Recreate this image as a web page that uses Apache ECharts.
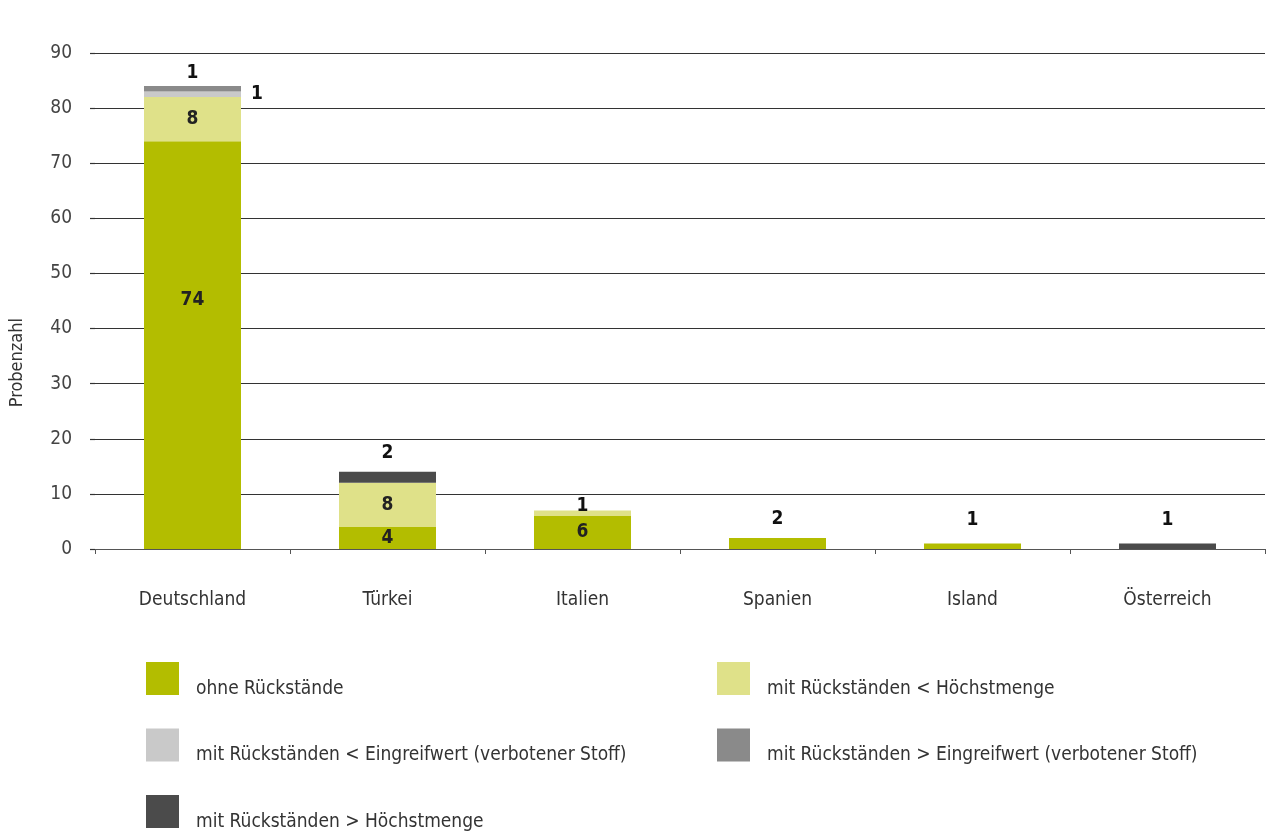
<!DOCTYPE html>
<html>
<head>
<meta charset="utf-8">
<script src="https://cdn.jsdelivr.net/npm/echarts@6/dist/echarts.min.js"></script>
<style>
  html, body { margin: 0; padding: 0; background: #ffffff; }
  #chart { width: 1271px; height: 835px; }
</style>
</head>
<body>
<div id="chart"></div>
<script>
// Herkunftsländer der untersuchten Proben
const categories = ['Deutschland', 'Türkei', 'Italien', 'Spanien', 'Island', 'Österreich'];

// Probenzahl je Befundgruppe (null = keine Probe)
const ohneRueckstaende       = [74, 4, 6, 2, 1, null];
const unterHoechstmenge      = [8, 8, 1, null, null, null];
const unterEingreifwert      = [1, null, null, null, null, null];
const ueberEingreifwert      = [1, null, null, null, null, null];
const ueberHoechstmenge      = [null, 2, null, null, null, 1];

const seriesNames = [
  'ohne Rückstände',
  'mit Rückständen < Höchstmenge',
  'mit Rückständen < Eingreifwert (verbotener Stoff)',
  'mit Rückständen > Eingreifwert (verbotener Stoff)',
  'mit Rückständen > Höchstmenge'
];

const yTicks = { min: 0, max: 90, interval: 10 };

const FONT = "'DejaVu Sans Condensed', 'DejaVu Sans', sans-serif";
const colors = ['#b3bd00', '#dfe189', '#c9c9c9', '#8a8a8a', '#4b4b4b'];

// label placement per bar segment
const labelInside = { show: true, position: 'inside', fontSize: 19, fontWeight: 'bold', color: '#222', fontFamily: FONT };
const labelTop = { show: true, position: 'top', distance: 9, fontSize: 19, fontWeight: 'bold', color: '#111', fontFamily: FONT };

const placements = [
  ['inside', 'inside', 'inside', 'top', 'topFar', null],
  ['inside', 'inside', 'topOverlap', null, null, null],
  ['right', null, null, null, null, null],
  ['topNear', null, null, null, null, null],
  [null, 'top', null, null, null, 'topFar']
];

function labelFor(kind, seriesIdx, catIdx) {
  if (kind === 'inside') {
    const l = Object.assign({}, labelInside);
    if (seriesIdx === 0 && catIdx === 0) l.offset = [0, -45];
    return l;
  }
  if (kind === 'top') return labelTop;
  if (kind === 'topFar') return Object.assign({}, labelTop, { distance: 14 });
  if (kind === 'topNear') return Object.assign({}, labelTop, { distance: 4 });
  if (kind === 'topOverlap') return Object.assign({}, labelTop, { distance: -5 });
  if (kind === 'right') return { show: true, position: 'right', distance: 10, fontSize: 19, fontWeight: 'bold', color: '#111', fontFamily: FONT };
  return { show: false };
}

const valueSets = [ohneRueckstaende, unterHoechstmenge, unterEingreifwert, ueberEingreifwert, ueberHoechstmenge];

const series = valueSets.map((vals, si) => ({
  name: seriesNames[si],
  type: 'bar',
  stack: 'proben',
  barWidth: 97,
  itemStyle: { color: colors[si] },
  emphasis: { disabled: true },
  data: vals.map((v, ci) => ({
    value: v,
    label: labelFor(placements[si][ci], si, ci)
  }))
}));

// legend text sits low beside each swatch: a tall empty strut plus bottom-aligned name
const legendText = {
  fontSize: 19, color: '#333', fontFamily: FONT, padding: [0, 0, 0, 11],
  rich: {
    s: { height: 50, width: 1, fontSize: 19 },
    t: { fontSize: 19, color: '#333', fontFamily: FONT, verticalAlign: 'bottom', padding: [0, 0, 5, 0] }
  }
};
const legendFormatter = name => '{s| }{t|' + name + '}';

const chart = echarts.init(document.getElementById('chart'), null, { renderer: 'canvas' });

chart.setOption({
  backgroundColor: '#ffffff',
  animation: false,
  textStyle: { fontFamily: FONT },
  grid: { left: 95, right: 6, top: 53, bottom: 286 },
  xAxis: {
    type: 'category',
    data: categories,
    axisLine: { lineStyle: { color: '#555', width: 1.2 } },
    axisTick: { show: true, length: 5, lineStyle: { color: '#555' } },
    axisLabel: { margin: 42, fontSize: 19, color: '#333', fontFamily: FONT }
  },
  yAxis: {
    type: 'value',
    min: yTicks.min,
    max: yTicks.max,
    interval: yTicks.interval,
    axisLine: { show: false },
    axisTick: { show: true, length: 5, lineStyle: { color: '#333', width: 1.2 } },
    axisLabel: { margin: 23, fontSize: 19, color: '#444', fontFamily: FONT },
    splitLine: { lineStyle: { color: '#333', width: 1.2 } }
  },
  legend: [
    {
      data: [seriesNames[0], seriesNames[2], seriesNames[4]],
      orient: 'vertical',
      left: 146, top: 662, height: 220,
      padding: 0,
      itemWidth: 33, itemHeight: 33, itemGap: 30,
      icon: 'rect',
      selectedMode: false,
      formatter: legendFormatter,
      textStyle: legendText
    },
    {
      data: [seriesNames[1], seriesNames[3]],
      orient: 'vertical',
      left: 717, top: 662, height: 220,
      padding: 0,
      itemWidth: 33, itemHeight: 33, itemGap: 30,
      icon: 'rect',
      selectedMode: false,
      formatter: legendFormatter,
      textStyle: legendText
    }
  ],
  graphic: [{
    type: 'text',
    left: 8,
    top: 318,
    rotation: Math.PI / 2,
    style: { text: 'Probenzahl', font: '18px ' + FONT, fill: '#333' }
  }],
  series: series
});
</script>
</body>
</html>
